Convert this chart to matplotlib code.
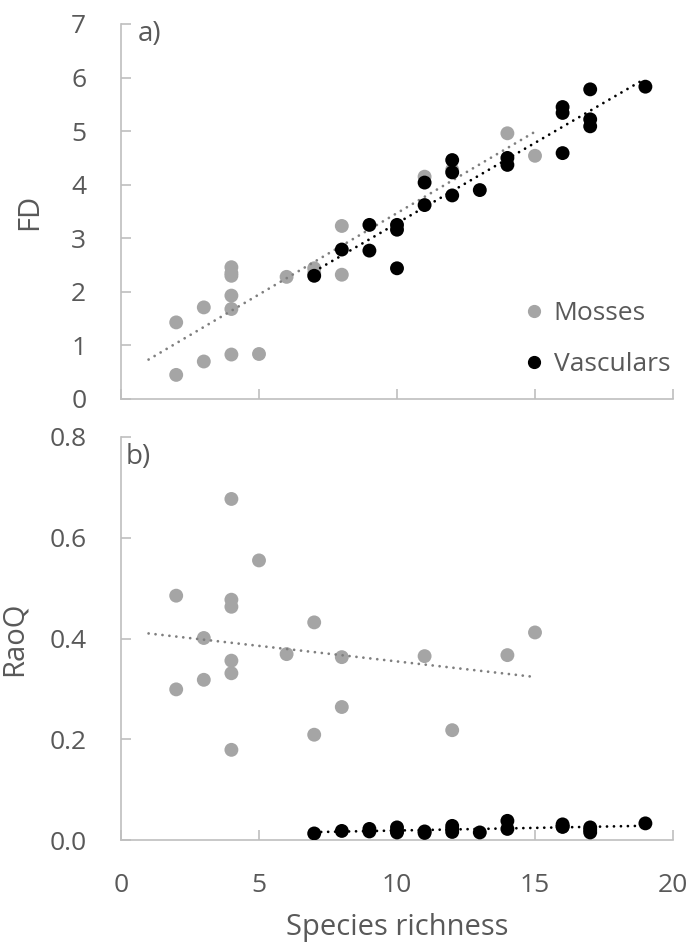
import matplotlib
matplotlib.use("Agg")
import matplotlib.pyplot as plt
from matplotlib.lines import Line2D
import numpy as np

plt.rcParams['font.family'] = ['Open Sans', 'DejaVu Sans']

# ---- data ----
moss_x = [2, 2, 3, 3, 4, 4, 4, 4, 4, 4, 5, 6, 7, 7, 8, 8, 11, 12, 14, 15]
moss_fd = [0.45, 1.43, 0.70, 1.71, 0.83, 1.68, 1.93, 2.30, 2.35, 2.46,
           0.84, 2.28, 2.44, 2.35, 3.23, 2.32, 4.15, 4.28, 4.96, 4.54]
moss_rao = [0.485, 0.299, 0.401, 0.318, 0.677, 0.477, 0.463, 0.356, 0.331, 0.179,
            0.555, 0.369, 0.432, 0.209, 0.363, 0.264, 0.365, 0.218, 0.367, 0.412]

vasc_x = [7, 8, 9, 9, 10, 10, 10, 11, 11, 12, 12, 12, 13, 14, 14, 16, 16, 16, 17, 17, 17, 19]
vasc_fd = [2.30, 2.79, 3.25, 2.77, 3.25, 3.16, 2.44, 4.04, 3.62, 4.46, 4.23, 3.80, 3.90,
           4.50, 4.37, 5.45, 5.34, 4.59, 5.78, 5.22, 5.09, 5.83]
vasc_rao = [0.013, 0.018, 0.022, 0.017, 0.025, 0.018, 0.015, 0.017, 0.014, 0.028, 0.022,
            0.016, 0.015, 0.038, 0.022, 0.031, 0.027, 0.026, 0.025, 0.020, 0.015, 0.033]

moss_trend_range = [1, 15]
vasc_trend_range = [7, 19]

series_labels = ['Mosses', 'Vasculars']
x_ticks = [0, 5, 10, 15, 20]
fd_ticks = [0, 1, 2, 3, 4, 5, 6, 7]
rao_ticks = [0.0, 0.2, 0.4, 0.6, 0.8]

# ---- style ----
MOSS_C = '#A5A5A5'
VASC_C = '#000000'
MOSS_LINE = '#7F7F7F'
TXT = '#595959'
SPINE = '#BFBFBF'
MS = 100

fig = plt.figure(figsize=(6.94, 9.44), dpi=100)
W, H = 694, 944
axL, axR = 121, 673
axA = fig.add_axes([axL / W, 1 - 399 / H, (axR - axL) / W, (399 - 24) / H])
axB = fig.add_axes([axL / W, 1 - 840 / H, (axR - axL) / W, (840 - 437) / H])


def trend(ax, x, y, rng, color):
    k, b = np.polyfit(x, y, 1)
    xs = np.array(rng, dtype=float)
    ax.plot(xs, k * xs + b, color=color, lw=2.0, linestyle=(0, (0.01, 2.5)),
            dash_capstyle='round', solid_capstyle='round', zorder=3)


def style(ax):
    for s in ['top', 'right']:
        ax.spines[s].set_visible(False)
    for s in ['left', 'bottom']:
        ax.spines[s].set_color(SPINE)
        ax.spines[s].set_linewidth(1.2)
    ax.tick_params(direction='in', length=7, width=1.2, color=SPINE,
                   labelcolor=TXT, labelsize=19)
    ax.tick_params(axis='y', pad=25)
    ax.tick_params(axis='x', pad=24)
    ax.set_xlim(0, 20)
    ax.set_xticks(x_ticks)


# panel a
axA.scatter(moss_x, moss_fd, s=MS, color=MOSS_C, edgecolors='none', zorder=2)
axA.scatter(vasc_x, vasc_fd, s=MS, color=VASC_C, edgecolors='none', zorder=4)
trend(axA, moss_x, moss_fd, moss_trend_range, MOSS_LINE)
trend(axA, vasc_x, vasc_fd, vasc_trend_range, VASC_C)
style(axA)
axA.set_ylim(0, 7)
axA.set_yticks(fd_ticks)
axA.set_yticklabels([str(t) for t in fd_ticks])
axA.tick_params(axis='x', labelbottom=False)
axA.set_ylabel('FD', fontsize=21, color=TXT)
axA.yaxis.set_label_coords(-0.14, 0.5)
axA.text(0.03, 1.01, 'a)', transform=axA.transAxes, ha='left', va='top',
         fontsize=20, color=TXT)
handles = [Line2D([], [], marker='o', linestyle='none', color=MOSS_C, markersize=8.5),
           Line2D([], [], marker='o', linestyle='none', color=VASC_C, markersize=8.5)]
axA.legend(handles, series_labels, loc='lower left', bbox_to_anchor=(0.705, 0.03),
           frameon=False, fontsize=19, labelcolor=TXT, handletextpad=0.25,
           labelspacing=1.0, handlelength=1.0, borderaxespad=0)

# panel b
axB.scatter(moss_x, moss_rao, s=MS, color=MOSS_C, edgecolors='none', zorder=2)
axB.scatter(vasc_x, vasc_rao, s=MS, color=VASC_C, edgecolors='none', zorder=4)
trend(axB, moss_x, moss_rao, moss_trend_range, MOSS_LINE)
trend(axB, vasc_x, vasc_rao, vasc_trend_range, VASC_C)
style(axB)
axB.set_ylim(0, 0.8)
axB.set_yticks(rao_ticks)
axB.set_yticklabels([f'{t:.1f}' for t in rao_ticks])
axB.set_xticklabels([str(t) for t in x_ticks])
axB.set_ylabel('RaoQ', fontsize=21, color=TXT)
axB.yaxis.set_label_coords(-0.167, 0.5)
axB.set_xlabel('Species richness', fontsize=21, color=TXT)
axB.xaxis.set_label_coords(0.5, -0.18)
axB.text(0.008, 0.985, 'b)', transform=axB.transAxes, ha='left', va='top',
         fontsize=20, color=TXT)

fig.savefig('out.png', dpi=100)
